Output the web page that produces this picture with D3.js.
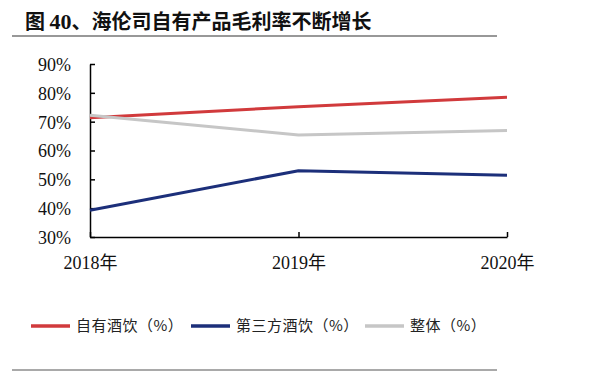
<!DOCTYPE html>
<html>
<head>
<meta charset="utf-8">
<script src="https://cdn.jsdelivr.net/npm/d3@7"></script>
<style>
  html, body { margin: 0; padding: 0; background: #fff; }
  svg { display: block; }
  .tick text { font-family: "Liberation Serif", "Times New Roman", "Noto Sans CJK SC", serif; font-size: 18px; fill: #111; }
</style>
</head>
<body>
<div id="chart"></div>
<script>
// years on the x axis
const years = ["2018年", "2019年", "2020年"];
// gross margin, %
const ownBrand = [71.4, 75.2, 78.5];
const thirdParty = [39.3, 53.0, 51.4];
const overall = [72.2, 65.4, 66.9];
const yTicks = [30, 40, 50, 60, 70, 80, 90];

const series = [
  { name: "自有酒饮（%）", values: ownBrand, color: "#d13a3c" },
  { name: "第三方酒饮（%）", values: thirdParty, color: "#1c2f7a" },
  { name: "整体（%）", values: overall, color: "#c6c6c6" }
];

const W = 599, H = 376;
const svg = d3.select("#chart").append("svg")
  .attr("width", W).attr("height", H);

// title + rules
const title = svg.append("text")
  .attr("x", 25).attr("y", 29)
  .attr("font-family", "'Noto Sans CJK SC', sans-serif")
  .attr("font-weight", "bold").attr("font-size", 20)
  .attr("fill", "#111");
title.append("tspan").text("图 ");
title.append("tspan").attr("font-family", "'Liberation Serif', serif").attr("font-size", 22).text("40");
title.append("tspan").text("、海伦司自有产品毛利率不断增长");
svg.append("line").attr("x1", 12).attr("x2", 497).attr("y1", 36).attr("y2", 36)
  .attr("stroke", "#333").attr("stroke-width", 1.2);
svg.append("line").attr("x1", 12).attr("x2", 497).attr("y1", 370).attr("y2", 370)
  .attr("stroke", "#555").attr("stroke-width", 1.2);

const x = d3.scalePoint().domain(years).range([90, 507]);
const y = d3.scaleLinear().domain([30, 90]).range([237, 64]);

// axes
const yAxis = svg.append("g").attr("transform", "translate(90,0)")
  .call(d3.axisLeft(y).tickValues(yTicks).tickFormat(d => d + "%").tickSizeInner(-5).tickSizeOuter(0).tickPadding(19));
yAxis.selectAll("line, path").attr("stroke", "#000").attr("stroke-width", 1.5);
yAxis.selectAll("text").attr("dy", "0.36em");

const xAxis = svg.append("g").attr("transform", "translate(0,237)")
  .call(d3.axisBottom(x).tickSizeInner(-5).tickSizeOuter(0).tickPadding(19));
xAxis.selectAll("line, path").attr("stroke", "#000").attr("stroke-width", 1.5);

// lines
const line = d3.line().x((d, i) => x(years[i])).y(d => y(d));
svg.selectAll("path.series").data(series).join("path").attr("class", "series")
  .attr("d", d => line(d.values))
  .attr("fill", "none").attr("stroke", d => d.color).attr("stroke-width", 3)
  .attr("stroke-linejoin", "round");

// legend
const legendX = [31, 191, 365];
const lg = svg.append("g").attr("transform", "translate(0,326)");
series.forEach((s, i) => {
  lg.append("line").attr("x1", legendX[i]).attr("x2", legendX[i] + 39)
    .attr("y1", 0).attr("y2", 0).attr("stroke", s.color).attr("stroke-width", 3.5);
  lg.append("text").attr("x", legendX[i] + 45).attr("y", 0).attr("dy", "0.36em")
    .attr("font-family", "'Noto Sans CJK SC', sans-serif").attr("font-size", 15)
    .attr("letter-spacing", 0.5).attr("fill", "#222")
    .text(s.name);
});
</script>
</body>
</html>
